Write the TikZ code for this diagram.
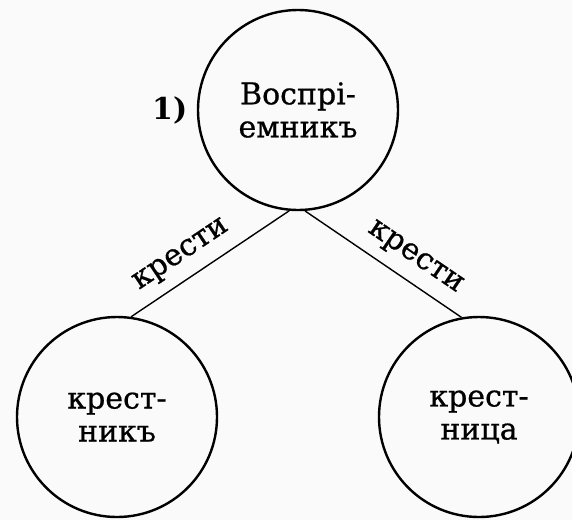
\documentclass[tikz,border=0pt]{standalone}
\usepackage{fontspec}
\setmainfont{DejaVu Serif}
\newfontfamily\inkserif[FakeBold=0.7]{DejaVu Serif}
\usetikzlibrary{positioning}

\begin{document}
\begin{tikzpicture}[
        x=1pt, y=1pt,
        person/.style={draw, circle, line width=2.4pt, minimum size=200pt, inner sep=0pt, align=center, font=\inkserif\fontsize{30}{33}\selectfont},
        link/.style={line width=1.4pt},
        linklabel/.style={font=\inkserif\fontsize{30}{30}\selectfont, inner sep=2pt}
    ]

    % Page
    \useasboundingbox[fill=black!2] (0,0) rectangle (572,-520);

    % Nodes - godparent and godchildren
    \node[person] (godparent) at (298,-110) {Воспрі-\\емникъ};
    \node[font=\fontsize{30}{30}\selectfont\bfseries, left=6pt of godparent] (num) {1)};
    \node[person] (godson) at (117,-417) {крест-\\никъ};
    \node[person] (goddaughter) at (479,-417) {крест-\\ница};

    % Links
    \draw[link] (godparent.-95) -- node[linklabel, pos=0.6, above=9pt, sloped] {крести} (godson.82);
    \draw[link] (godparent.-86) -- node[linklabel, pos=0.62, above=9pt, sloped] {крести} (goddaughter.100);

\end{tikzpicture}
\end{document}
